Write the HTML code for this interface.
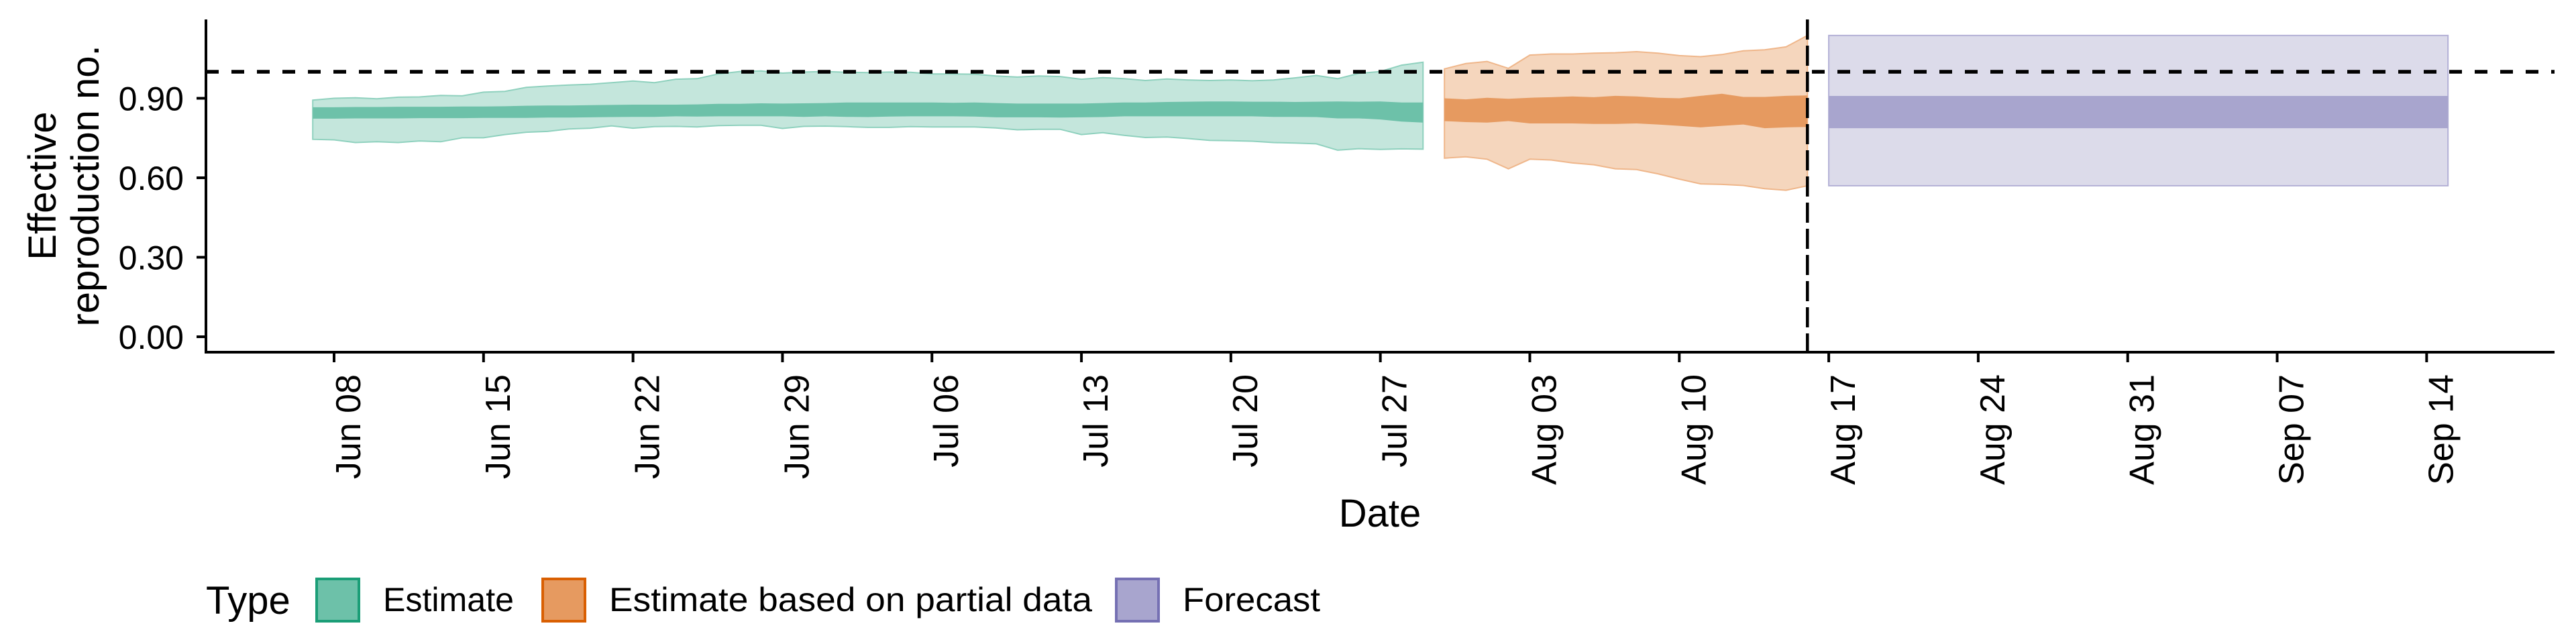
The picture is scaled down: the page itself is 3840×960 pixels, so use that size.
<!DOCTYPE html>
<html><head><meta charset="utf-8"><style>
html,body{margin:0;padding:0;background:#fff;}
svg{display:block;font-family:"Liberation Sans",Arial,sans-serif;}
</style></head><body>
<svg id="chart" width="3840" height="960" viewBox="0 0 3840 960" xmlns="http://www.w3.org/2000/svg">
<g id="plot"></g>
</svg>
<script>
// ---- data ----
const estStart = -1; // days since Jun 08
const estUpper90 = [.893,.900,.902,.898,.904,.905,.911,.909,.923,.926,.941,.946,.950,.953,.959,.965,.959,.972,.974,.992,1.001,1.003,.995,.999,1.001,.998,.997,.999,.998,.992,.992,.991,.984,.980,.984,.982,.972,.978,.974,.967,.973,.969,.967,.969,.966,.969,.977,.986,.974,.994,1.001,1.025,1.036];
const estLower90 = [.745,.743,.733,.736,.733,.739,.736,.751,.751,.763,.772,.775,.784,.787,.796,.787,.793,.794,.792,.797,.798,.798,.786,.794,.795,.793,.790,.790,.793,.792,.792,.792,.788,.781,.783,.783,.763,.770,.760,.752,.754,.748,.741,.740,.738,.733,.731,.728,.704,.710,.707,.709,.708];
const estUpper50 = [.866,.866,.867,.867,.868,.868,.868,.869,.869,.870,.872,.873,.873,.874,.875,.876,.876,.876,.877,.879,.879,.881,.880,.881,.882,.884,.884,.884,.884,.884,.883,.884,.882,.880,.880,.880,.880,.882,.884,.884,.886,.887,.888,.888,.887,.887,.886,.887,.888,.887,.888,.884,.884];
const estLower50 = [.823,.823,.824,.824,.824,.825,.825,.825,.826,.826,.826,.827,.827,.828,.829,.830,.830,.832,.831,.832,.832,.832,.832,.830,.832,.830,.829,.831,.832,.832,.832,.831,.828,.828,.828,.827,.828,.829,.832,.832,.832,.832,.832,.832,.832,.830,.830,.829,.824,.824,.820,.812,.808];
const partStart = 52;
const partUpper90 = [1.011,1.031,1.039,1.013,1.063,1.067,1.067,1.070,1.072,1.076,1.070,1.061,1.057,1.065,1.079,1.083,1.094,1.137];
const partLower90 = [.674,.679,.670,.634,.670,.667,.656,.649,.634,.631,.615,.595,.577,.575,.571,.559,.553,.570];
const partUpper50 = [.900,.896,.902,.898,.902,.904,.907,.904,.909,.907,.902,.900,.909,.917,.905,.905,.909,.911];
const partLower50 = [.814,.810,.808,.814,.805,.805,.805,.803,.803,.805,.801,.796,.790,.796,.801,.787,.790,.792];
const fcDays = [70, 99];
const fcUpper90 = [1.137, 1.137];
const fcLower90 = [.570, .570];
const fcUpper50 = [.909, .909];
const fcLower50 = [.787, .787];
const yTicks = [0, 0.3, 0.6, 0.9];
const yTickLabels = ["0.00","0.30","0.60","0.90"];
const xTickDays = [0,7,14,21,28,35,42,49,56,63,70,77,84,91,98];
const xTickLabels = ["Jun 08","Jun 15","Jun 22","Jun 29","Jul 06","Jul 13","Jul 20","Jul 27","Aug 03","Aug 10","Aug 17","Aug 24","Aug 31","Sep 07","Sep 14"];
const forecastDateDay = 69;
const refValue = 1;

// ---- scales ----
const X0 = 307, X1 = 3808, YTOP = 29, YBOT = 525;
const x = d => 498 + 31.83 * d;
const y = v => 502 - 395 * v;
const NS = "http://www.w3.org/2000/svg";
const plot = document.getElementById('plot');
function el(tag, attrs, parent) {
  const e = document.createElementNS(NS, tag);
  for (const k in attrs) e.setAttribute(k, attrs[k]);
  (parent || plot).appendChild(e);
  return e;
}
function ribbon(start, up, lo, fill, stroke, name) {
  let pts = [];
  up.forEach((v, i) => pts.push(x(start + i).toFixed(1) + ',' + y(v).toFixed(1)));
  for (let i = lo.length - 1; i >= 0; i--) pts.push(x(start + i).toFixed(1) + ',' + y(lo[i]).toFixed(1));
  const p = el('polygon', {points: pts.join(' '), fill: fill, stroke: stroke, 'stroke-width': stroke === 'none' ? 0 : 2});
  
  
  return p;
}
function ribbonDays(days, up, lo, fill, stroke, name) {
  let pts = [];
  days.forEach((d, i) => pts.push(x(d) + ',' + y(up[i])));
  for (let i = days.length - 1; i >= 0; i--) pts.push(x(days[i]) + ',' + y(lo[i]));
  const p = el('polygon', {points: pts.join(' '), fill: fill, stroke: stroke, 'stroke-width': stroke === 'none' ? 0 : 2});
  
  
}
ribbon(estStart, estUpper90, estLower90, '#c4e6dc', '#8fd1be', 'estimate-90-ribbon');
ribbon(estStart, estUpper50, estLower50, '#6dc1a9', 'none', 'estimate-50-ribbon');
ribbon(partStart, partUpper90, partLower90, '#f5d6bd', '#efb68a', 'partial-90-ribbon');
ribbon(partStart, partUpper50, partLower50, '#e69a60', 'none', 'partial-50-ribbon');
ribbonDays(fcDays, fcUpper90, fcLower90, '#dcdbea', '#b3b0d6', 'forecast-90-ribbon');
ribbonDays(fcDays, fcUpper50, fcLower50, '#a8a5ce', 'none', 'forecast-50-ribbon');

// reference lines
const h = el('line', {x1: X0, x2: X1, y1: y(refValue), y2: y(refValue), stroke: '#000', 'stroke-width': 5.5, 'stroke-dasharray': '19 19'});


const v = el('line', {x1: x(forecastDateDay), x2: x(forecastDateDay), y1: YTOP, y2: YBOT, stroke: '#000', 'stroke-width': 4.5, 'stroke-dasharray': '30 9'});



// axes
const ya = el('line', {x1: X0, x2: X0, y1: YTOP, y2: YBOT + 2, stroke: '#000', 'stroke-width': 4});


const xa = el('line', {x1: X0 - 2, x2: X1, y1: YBOT, y2: YBOT, stroke: '#000', 'stroke-width': 4});



yTicks.forEach((t, i) => {
  const tk = el('line', {x1: X0 - 14, x2: X0, y1: y(t), y2: y(t), stroke: '#000', 'stroke-width': 4});
  
  
  const tx = el('text', {x: 274, y: y(t) + 18, 'text-anchor': 'end', 'font-size': 50, fill: '#000'});
  tx.textContent = yTickLabels[i];
  
  
});
xTickDays.forEach((d, i) => {
  const tk = el('line', {x1: x(d), x2: x(d), y1: YBOT, y2: YBOT + 15, stroke: '#000', 'stroke-width': 4});
  
  
  const bx = x(d) + 39, by = 558;
  const tx = el('text', {x: bx, y: by, 'text-anchor': 'end', 'font-size': 52, fill: '#000', transform: 'rotate(-90 ' + bx + ' ' + by + ')'});
  tx.textContent = xTickLabels[i];
  
  
});

// titles
const yt = el('text', {x: 0, y: 0, 'text-anchor': 'middle', 'font-size': 58, fill: '#000', transform: 'translate(83 277) rotate(-90)'});


const t1 = el('tspan', {x: 0, dy: 0}, yt); t1.textContent = 'Effective';
const t2 = el('tspan', {x: 0, dy: 64}, yt); t2.textContent = 'reproduction no.';
const xt = el('text', {x: 2057, y: 785, 'text-anchor': 'middle', 'font-size': 58, fill: '#000'});
xt.textContent = 'Date';



// legend
const lg = el('g', {});


const lt = el('text', {x: 307, y: 915, 'font-size': 58, fill: '#000'}, lg);
lt.textContent = 'Type';


const legNames = ['Estimate', 'Estimate based on partial data', 'Forecast'];
const legFill = ['#6dc1a9', '#e69a60', '#a8a5ce'];
const legStroke = ['#1b9e77', '#d95f02', '#7570b3'];
const legKeyX = [470, 807, 1662];
const legTextLen = [195, 720, 205];
legNames.forEach((n, i) => {
  const g = el('g', {}, lg);
  
  
  el('rect', {x: legKeyX[i] + 2, y: 863, width: 63, height: 63, fill: legFill[i], stroke: legStroke[i], 'stroke-width': 4}, g);
  const t = el('text', {x: legKeyX[i] + 101, y: 911, 'font-size': 50, fill: '#000', textLength: legTextLen[i], lengthAdjust: 'spacingAndGlyphs'}, g);
  t.textContent = n;
});
</script>
</body></html>
